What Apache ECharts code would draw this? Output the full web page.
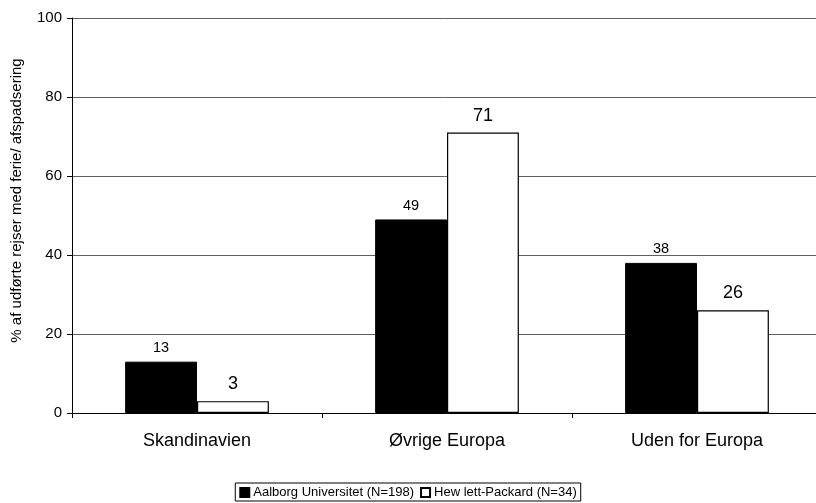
<!DOCTYPE html>
<html><head><meta charset="utf-8">
<script src="https://cdn.jsdelivr.net/npm/echarts@6/dist/echarts.min.js"></script>
<style>html,body{margin:0;padding:0;background:#fff}#c{width:816px;height:503px}</style>
</head><body><div id="c"></div>
<script>
const categories = ['Skandinavien', 'Øvrige Europa', 'Uden for Europa'];
const aalborg = [13, 49, 38];
const hp = [3, 71, 26];
const seriesNames = ['Aalborg Universitet (N=198)', 'Hew lett-Packard (N=34)'];
const yTitle = '% af udførte rejser med ferie/ afspadsering';

const chart = echarts.init(document.getElementById('c'));
const font = 'Liberation Sans, Arial, sans-serif';
chart.setOption({
  animation: false,
  textStyle: { fontFamily: font, color: '#000' },
  grid: { left: 72, top: 18, bottom: 90, width: 750, outerBoundsMode: 'none', containLabel: false },
  xAxis: {
    type: 'category', data: categories,
    axisLine: { lineStyle: { color: '#000', width: 1 } },
    axisTick: { show: true, length: 5, lineStyle: { color: '#000' } },
    axisLabel: { fontSize: 18, color: '#000', margin: 19, fontFamily: font }
  },
  yAxis: {
    type: 'value', min: 0, max: 100, interval: 20,
    name: yTitle, nameLocation: 'middle', nameGap: 48, nameRotate: 90,
    nameTextStyle: { fontSize: 15, color: '#000', fontFamily: font, padding: [0, 0, 0, 30] },
    axisLine: { show: true, lineStyle: { color: '#000' } },
    axisTick: { show: true, length: 5, lineStyle: { color: '#000' } },
    axisLabel: { fontSize: 15, color: '#000', margin: 10, fontFamily: font },
    splitLine: { lineStyle: { color: '#606060', width: 1 } }
  },
  legend: {
    bottom: 2, left: 'center',
    data: seriesNames,
    itemWidth: 9, itemHeight: 9, itemGap: 6,
    borderColor: '#000', borderWidth: 1, padding: [3, 4, 2, 4],
    textStyle: { fontSize: 13, color: '#000', fontFamily: font, padding: [0, 0, 0, -1] },
    icon: 'rect'
  },
  series: [
    {
      name: seriesNames[0], type: 'bar', data: aalborg,
      barGap: '0%', barCategoryGap: '42.5%',
      itemStyle: { color: '#000', borderColor: '#000', borderWidth: 1 },
      label: { show: true, position: 'top', distance: 6, fontSize: 14.5, color: '#000', fontFamily: font }
    },
    {
      name: seriesNames[1], type: 'bar', data: hp,
      itemStyle: { color: '#fff', borderColor: '#000', borderWidth: 1.2 },
      label: { show: true, position: 'top', distance: 8, fontSize: 18, color: '#000', fontFamily: font }
    }
  ]
});
</script></body></html>
